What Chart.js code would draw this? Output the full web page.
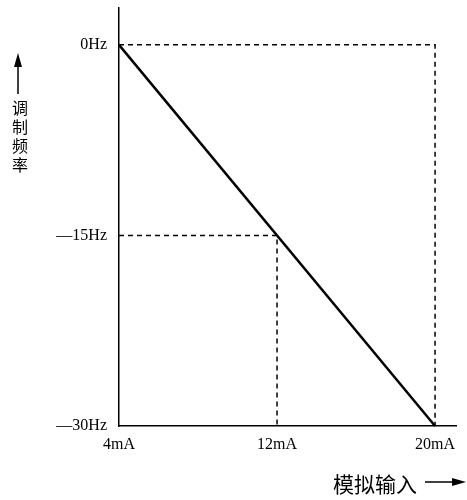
<!DOCTYPE html>
<html>
<head>
<meta charset="utf-8">
<script src="https://cdn.jsdelivr.net/npm/chart.js@4/dist/chart.umd.min.js"></script>
<style>
html,body{margin:0;padding:0;background:#fff;}
#wrap{width:467px;height:500px;position:relative;}
</style>
</head>
<body>
<div id="wrap"><canvas id="c" width="467" height="500"></canvas></div>
<script>
// ---- data ----
const currentTicks = [4, 12, 20];          // mA
const freqTicks = [0, -15, -30];           // Hz
const lineX = [4, 20];
const lineY = [0, -30];
const guideTopX = [4, 20, 20];
const guideTopY = [0, 0, -30];
const guideMidX = [4, 12, 12];
const guideMidY = [-15, -15, -30];
const xTitle = '模拟输入';
const yTitle = ['调', '制', '频', '率'];

const toPts = (xs, ys) => xs.map((x, i) => ({x: x, y: ys[i]}));
const serif = "'Liberation Serif', 'DejaVu Serif', serif";
const cjk = "'Noto Sans CJK SC', sans-serif";

const titlesPlugin = {
  id: 'titles',
  afterDraw(chart) {
    const ctx = chart.ctx;
    ctx.save();
    ctx.fillStyle = '#000';
    ctx.strokeStyle = '#000';
    // y title: arrow + vertical chars
    ctx.lineWidth = 1.5;
    ctx.beginPath();
    ctx.moveTo(18, 94); ctx.lineTo(18, 62); ctx.stroke();
    ctx.beginPath();
    ctx.moveTo(18, 53); ctx.lineTo(14, 67); ctx.lineTo(22, 67); ctx.closePath(); ctx.fill();
    ctx.font = '16px ' + cjk;
    ctx.textAlign = 'center';
    ctx.textBaseline = 'middle';
    yTitle.forEach((ch, i) => ctx.fillText(ch, 20, 108 + i * 19));
    // x title
    ctx.font = '21px ' + cjk;
    ctx.textAlign = 'left';
    ctx.fillText(xTitle, 333, 484);
    ctx.beginPath();
    ctx.moveTo(425, 482); ctx.lineTo(455, 482); ctx.stroke();
    ctx.beginPath();
    ctx.moveTo(466, 482); ctx.lineTo(452, 478); ctx.lineTo(452, 486); ctx.closePath(); ctx.fill();
    ctx.restore();
  }
};

new Chart(document.getElementById('c'), {
  type: 'scatter',
  data: {
    datasets: [
      {data: toPts(guideTopX, guideTopY), showLine: true, borderColor: '#000', borderWidth: 1.5, borderDash: [5, 4], pointRadius: 0, fill: false},
      {data: toPts(guideMidX, guideMidY), showLine: true, borderColor: '#000', borderWidth: 1.5, borderDash: [5, 4], pointRadius: 0, fill: false},
      {data: toPts(lineX, lineY), showLine: true, borderColor: '#000', borderWidth: 2.5, pointRadius: 0, fill: false}
    ]
  },
  options: {
    responsive: false,
    animation: false,
    clip: false,
    layout: {padding: {top: 8, right: 11, left: 0, bottom: 0}},
    plugins: {legend: {display: false}, tooltip: {enabled: false}},
    scales: {
      x: {
        type: 'linear', min: 4, max: 21.06,
        grid: {display: false},
        border: {display: true, color: '#000', width: 1.5},
        afterBuildTicks: s => { s.ticks = currentTicks.map(v => ({value: v})); },
        afterFit: s => { s.height = 74; s.paddingLeft = 0; s.paddingRight = 0; },
        ticks: {color: '#000', padding: 1, maxRotation: 0, autoSkip: false,
          font: {family: serif, size: 16},
          callback: v => v + 'mA'}
      },
      y: {
        type: 'linear', min: -30, max: 2.9,
        grid: {display: false},
        border: {display: true, color: '#000', width: 1.5},
        afterBuildTicks: s => { s.ticks = freqTicks.map(v => ({value: v})); },
        afterFit: s => { s.width = 119; s.paddingTop = 0; s.paddingBottom = 0; },
        ticks: {color: '#000', padding: 4, autoSkip: false,
          font: {family: serif, size: 16},
          callback: v => v === 0 ? '0Hz' : '\u2014' + Math.abs(v) + 'Hz'}
      }
    }
  },
  plugins: [titlesPlugin]
});
</script>
</body>
</html>
